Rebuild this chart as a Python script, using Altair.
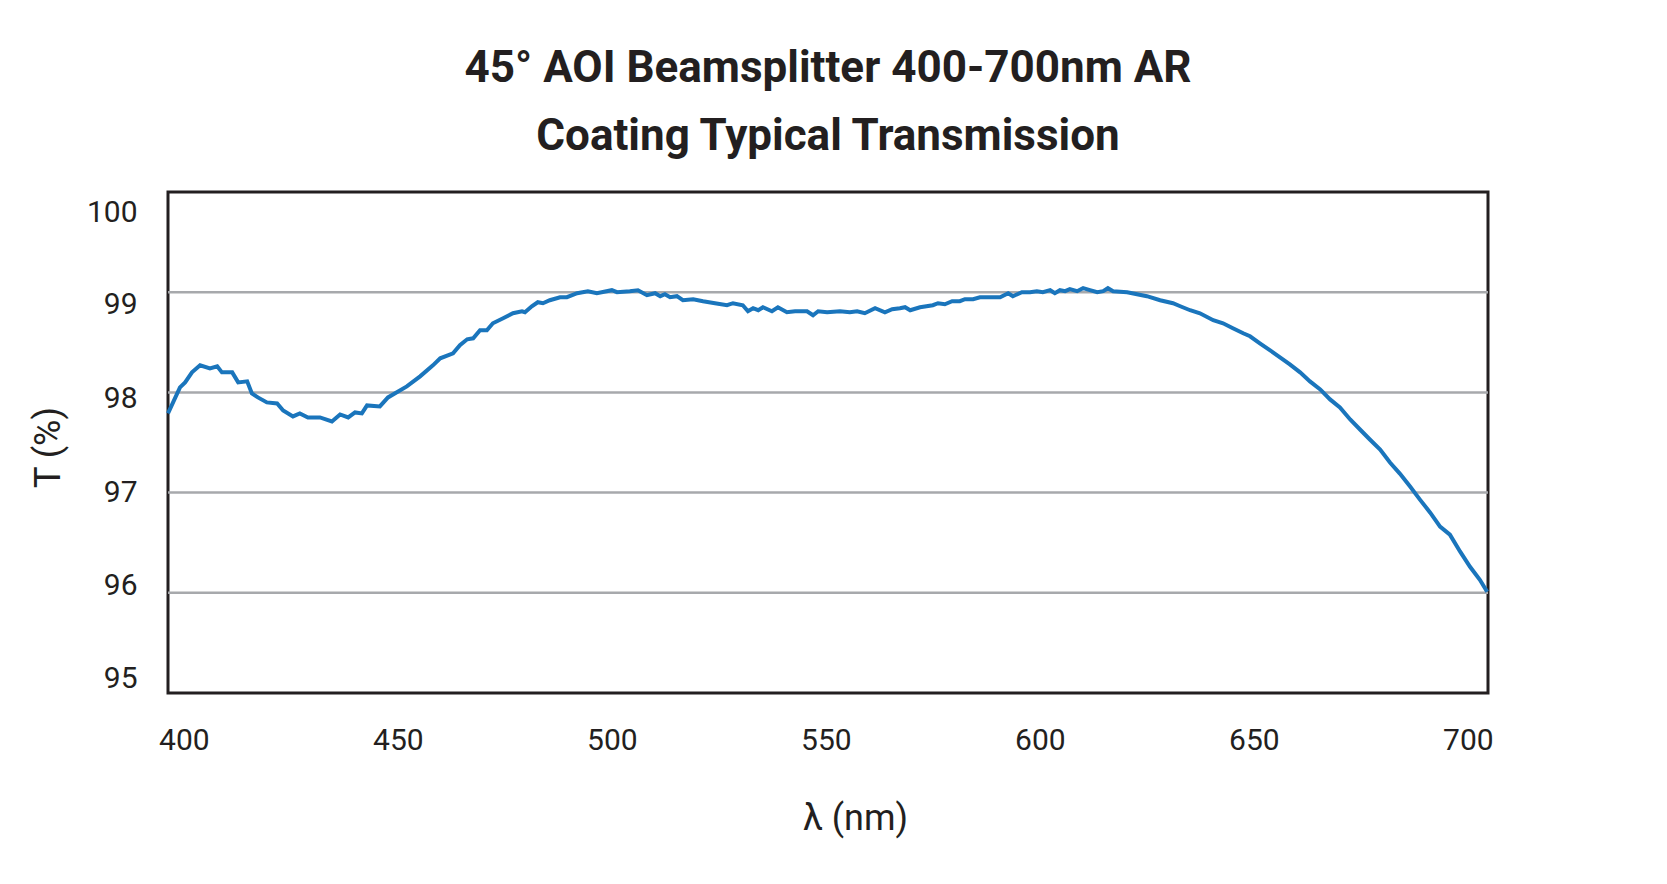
import altair as alt
import pandas as pd

wavelength = [
    396.3, 399.1, 400.3, 401.9, 403.8, 406.1, 407.8, 408.9, 411.3, 412.7,
    414.8, 415.9, 417.3, 419.4, 421.8, 423.2, 425.5, 427.1, 429.0, 431.8,
    434.6, 436.5, 438.4, 440.0, 441.6, 442.8, 445.8, 447.7, 452.1, 455.2,
    458.2, 459.9, 462.9, 464.5, 466.2, 467.6, 469.2, 470.8, 472.2, 474.6,
    476.9, 479.0, 479.7, 481.3, 482.7, 483.9, 485.5, 487.9, 489.5, 491.9,
    494.4, 496.5, 500.0, 501.2, 504.2, 506.1, 508.2, 510.1, 511.3, 512.4,
    513.6, 515.2, 516.6, 519.0, 521.3, 524.1, 526.9, 528.3, 530.6, 531.8,
    533.0, 534.2, 535.3, 537.4, 538.8, 540.9, 542.8, 545.6, 547.0, 548.2,
    550.3, 553.3, 555.6, 557.3, 559.1, 561.5, 563.8, 565.5, 567.3, 568.5,
    569.7, 572.0, 575.0, 576.2, 577.8, 579.5, 581.3, 582.5, 584.4, 586.0,
    589.1, 590.7, 592.6, 593.7, 595.8, 597.7, 599.3, 600.7, 602.4, 603.5,
    604.7, 605.9, 607.0, 608.7, 610.1, 611.7, 613.4, 614.8, 615.9, 617.1,
    620.4, 622.7, 625.0, 628.1, 631.1, 632.8, 635.1, 637.4, 640.5, 642.8,
    645.1, 647.5, 649.1, 651.4, 653.8, 656.1, 658.4, 660.8, 663.1, 665.5,
    667.8, 670.1, 672.5, 674.8, 677.1, 679.5, 681.8, 684.1, 686.5, 688.8,
    691.2, 693.5, 695.8, 698.2, 700.5, 702.8, 704.5,
]
transmission = [
    97.79, 98.05, 98.10, 98.20, 98.27, 98.24, 98.26, 98.20, 98.20, 98.10,
    98.11, 97.99, 97.95, 97.90, 97.89, 97.82, 97.76, 97.79, 97.75, 97.75,
    97.71, 97.78, 97.75, 97.80, 97.79, 97.87, 97.86, 97.95, 98.06, 98.16,
    98.27, 98.34, 98.39, 98.47, 98.53, 98.54, 98.62, 98.62, 98.69, 98.74,
    98.79, 98.81, 98.80, 98.86, 98.90, 98.89, 98.92, 98.95, 98.95, 98.99,
    99.01, 98.99, 99.02, 99.00, 99.01, 99.02, 98.97, 98.99, 98.96, 98.98,
    98.95, 98.96, 98.92, 98.93, 98.91, 98.89, 98.87, 98.89, 98.87, 98.81,
    98.84, 98.82, 98.85, 98.81, 98.85, 98.80, 98.81, 98.81, 98.77, 98.81,
    98.80, 98.81, 98.80, 98.81, 98.79, 98.84, 98.80, 98.83, 98.84, 98.85,
    98.82, 98.85, 98.87, 98.89, 98.88, 98.91, 98.91, 98.93, 98.93, 98.95,
    98.95, 98.95, 98.99, 98.96, 99.00, 99.00, 99.01, 99.00, 99.02, 98.99,
    99.02, 99.01, 99.03, 99.01, 99.04, 99.02, 99.00, 99.01, 99.04, 99.01,
    99.00, 98.98, 98.96, 98.92, 98.89, 98.86, 98.82, 98.79, 98.72, 98.69,
    98.64, 98.59, 98.56, 98.49, 98.42, 98.35, 98.28, 98.20, 98.11, 98.03,
    97.93, 97.85, 97.73, 97.63, 97.53, 97.43, 97.30, 97.19, 97.06, 96.93,
    96.80, 96.66, 96.58, 96.41, 96.26, 96.13, 96.01,
]
x_ticks = [400, 450, 500, 550, 600, 650, 700]
y_ticks = [95, 96, 97, 98, 99, 100]
grid_values = [96, 97, 98, 99]
x_domain = [396.3, 704.7]
y_domain = [95, 100]

title_lines = ["45° AOI Beamsplitter 400-700nm AR", "Coating Typical Transmission"]

FONT = "Roboto"
INK = "#231f20"

df = pd.DataFrame({"wl": wavelength, "T": transmission})
grid_df = pd.DataFrame({"g": grid_values})

xscale = alt.Scale(domain=x_domain, nice=False, zero=False)
yscale = alt.Scale(domain=y_domain, nice=False, zero=False)

# the reference's y labels sit slightly off their gridlines (hand placed)
y_label_offset = {
    "condition": [
        {"test": "datum.value == 100", "value": 20},
        {"test": "datum.value == 99", "value": 12},
        {"test": "datum.value == 98", "value": 6},
        {"test": "datum.value == 96", "value": -7},
        {"test": "datum.value == 95", "value": -15},
    ],
    "value": 0,
}

y_axis = alt.Axis(
    values=y_ticks, format="d", grid=False, ticks=False, domain=False,
    labelPadding=31, labelFontSize=30, labelFont=FONT, labelColor=INK,
    labelOffset=y_label_offset,
    titleFont=FONT, titleFontSize=36, titleFontWeight="normal", titleColor=INK,
    titleX=-120, titleY=255, titleBaseline="middle", titleAngle=270,
)
x_axis = alt.Axis(
    values=x_ticks, format="d", grid=False, ticks=False, domain=False,
    labelFlush=False, labelPadding=32, labelFontSize=30, labelFont=FONT,
    labelColor=INK, titleFont=FONT, titleFontSize=36, titleFontWeight="normal",
    titleColor=INK, titleX=687, titleY=125, titleBaseline="middle",
)

grid = alt.Chart(grid_df).mark_rule(color="#a7a9ac", strokeWidth=2.5).encode(
    y=alt.Y("g:Q", scale=yscale, title="T (%)", axis=y_axis)
)

line = alt.Chart(df).mark_line(color="#1a75bc", strokeWidth=4, interpolate="linear").encode(
    x=alt.X("wl:Q", scale=xscale, title="λ (nm)", axis=x_axis),
    y=alt.Y("T:Q", scale=yscale, title="T (%)", axis=y_axis),
)

chart = (
    alt.layer(grid, line)
    .properties(
        width=1320,
        height=501,
        padding={"left": 160, "top": 184, "right": 20, "bottom": 170},
        autosize=alt.AutoSizeParams(type="none"),
        background="white",
        title=alt.TitleParams(
            text=title_lines, font=FONT, fontSize=44, fontWeight="bold", color=INK,
            anchor="middle", offset=33, lineHeight=68,
        ),
    )
    .configure_view(stroke=INK, strokeWidth=3)
)

chart.save("out.html", embed_options={"renderer": "svg", "actions": False})
